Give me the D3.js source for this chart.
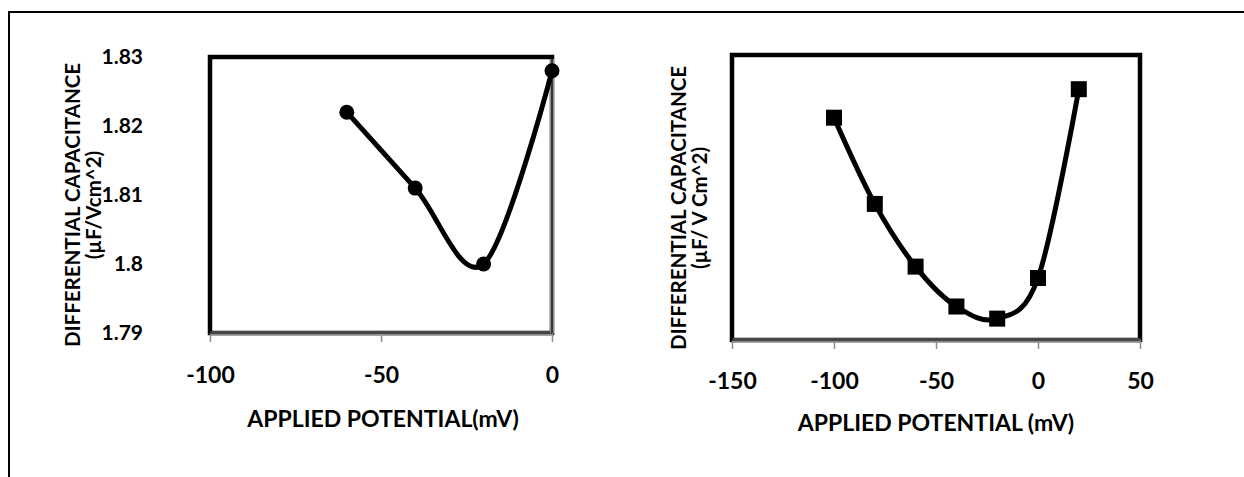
<!DOCTYPE html>
<html>
<head>
<meta charset="utf-8">
<script src="https://cdn.jsdelivr.net/npm/d3@7"></script>
<style>
  body { margin: 0; background: #fff; }
  text { font-family: Lato, "Open Sans", sans-serif; font-weight: bold; fill: #000; }
</style>
</head>
<body>
<div id="chart"></div>
<script>
// left panel: circles
const leftPotential = [-60, -40, -20, 0];
const leftCapacitance = [1.822, 1.811, 1.800, 1.828];
const leftXTicks = [-100, -50, 0];
const leftYTicks = [1.79, 1.80, 1.81, 1.82, 1.83];

// right panel: squares (no y labels in the original)
const rightPotential = [-100, -80, -60, -40, -20, 0, 20];
const rightCapacitance = [1.8212, 1.8091, 1.8003, 1.7947, 1.7930, 1.7987, 1.8252];
const rightXTicks = [-150, -100, -50, 0, 50];

const width = 1244, height = 477;

const svg = d3.select("#chart")
    .append("svg")
    .attr("width", width)
    .attr("height", height);

// outer frame, cut off on the right and bottom
svg.append("rect")
    .attr("x", 9).attr("y", 12)
    .attr("width", 1260).attr("height", 500)
    .attr("fill", "none")
    .attr("stroke", "#000")
    .attr("stroke-width", 2);

let drawPanel = function (cfg) {
    const x = d3.scaleLinear().domain(cfg.xDomain).range([cfg.left, cfg.right]);
    const y = d3.scaleLinear().domain(cfg.yDomain).range([cfg.bottom, cfg.top]);
    const g = svg.append("g");

    // plot area border
    g.append("rect")
        .attr("x", cfg.left).attr("y", cfg.top)
        .attr("width", cfg.right - cfg.left)
        .attr("height", cfg.bottom - cfg.top)
        .attr("fill", "none")
        .attr("stroke", "#000")
        .attr("stroke-width", 4.5);

    // grey x axis with ticks
    const ax = g.append("g")
        .attr("transform", "translate(0," + cfg.bottom + ")")
        .call(d3.axisBottom(x).tickValues(cfg.xTicks).tickSize(9).tickSizeOuter(0).tickPadding(cfg.xPad).tickFormat(d3.format("d")));
    ax.select(".domain").attr("stroke", "#8c8c8c").attr("stroke-width", 4);
    ax.selectAll(".tick line").attr("stroke", "#8c8c8c").attr("stroke-width", 1.5);
    ax.selectAll(".tick text")
        .style("font-size", "23px")
        .attr("dy", "0.71em")
        .text(d => d3.format("d")(d).replace("−", "-"));
    g.append("line")
        .attr("x1", cfg.left).attr("x2", cfg.right)
        .attr("y1", cfg.bottom).attr("y2", cfg.bottom)
        .attr("stroke", "#000").attr("stroke-width", 1.2);

    if (cfg.greyRight) {
        g.append("line")
            .attr("x1", cfg.right).attr("x2", cfg.right)
            .attr("y1", cfg.top + 2).attr("y2", cfg.bottom)
            .attr("stroke", "#8c8c8c").attr("stroke-width", 4);
        g.append("line")
            .attr("x1", cfg.right).attr("x2", cfg.right)
            .attr("y1", cfg.top + 2).attr("y2", cfg.bottom)
            .attr("stroke", "#000").attr("stroke-width", 1.2);
    }

    if (cfg.yTicks) {
        const ay = g.append("g")
            .attr("transform", "translate(" + cfg.left + ",0)")
            .call(d3.axisLeft(y).tickValues(cfg.yTicks).tickSize(0).tickPadding(67).tickFormat(d => +d.toFixed(2)));
        ay.select(".domain").remove();
        ay.selectAll(".tick text").style("font-size", "21px");
    }

    // axis titles
    const tx = g.append("text")
        .attr("transform", "translate(" + cfg.yTitleX + "," + cfg.yTitleY + ") rotate(-90)")
        .attr("text-anchor", "middle")
        .style("font-size", "20.5px");
    tx.append("tspan").attr("x", 0).attr("y", 0).text("DIFFERENTIAL CAPACITANCE");
    tx.append("tspan").attr("x", 0).attr("y", 21).text(cfg.yUnit);

    g.append("text")
        .attr("x", cfg.xTitleX).attr("y", cfg.xTitleY)
        .attr("text-anchor", "middle")
        .style("font-size", "23px")
        .text(cfg.xTitle);

    // smoothed line
    const pts = cfg.xs.map((d, i) => [d, cfg.ys[i]]);
    g.append("path")
        .datum(pts)
        .attr("fill", "none")
        .attr("stroke", "#000")
        .attr("stroke-width", 5)
        .attr("d", d3.line().x(d => x(d[0])).y(d => y(d[1])).curve(d3.curveCardinal.tension(0)));

    if (cfg.marker === "circle") {
        g.selectAll("circle.pt").data(pts).enter()
            .append("circle")
            .attr("cx", d => x(d[0])).attr("cy", d => y(d[1]))
            .attr("r", 7.5).attr("fill", "#000");
    } else {
        g.selectAll("rect.pt").data(pts).enter()
            .append("rect")
            .attr("x", d => x(d[0]) - 8).attr("y", d => y(d[1]) - 8)
            .attr("width", 16).attr("height", 16).attr("fill", "#000");
    }
};

drawPanel({
    xs: leftPotential, ys: leftCapacitance,
    xDomain: [-100, 0], yDomain: [1.79, 1.83],
    xTicks: leftXTicks, yTicks: leftYTicks, xPad: 25,
    left: 210, right: 552, top: 57, bottom: 333,
    greyRight: true, marker: "circle",
    yTitleX: 80, yTitleY: 205, yUnit: "(µF/Vcm^2)",
    xTitle: "APPLIED POTENTIAL(mV)", xTitleX: 383, xTitleY: 427
});

drawPanel({
    xs: rightPotential, ys: rightCapacitance,
    xDomain: [-150, 50], yDomain: [1.79, 1.83],
    xTicks: rightXTicks, yTicks: null, xPad: 24,
    left: 732, right: 1140, top: 55, bottom: 340,
    greyRight: false, marker: "square",
    yTitleX: 686, yTitleY: 208, yUnit: "(µF/ V Cm^2)",
    xTitle: "APPLIED POTENTIAL (mV)", xTitleX: 936, xTitleY: 431
});
</script>
</body>
</html>
